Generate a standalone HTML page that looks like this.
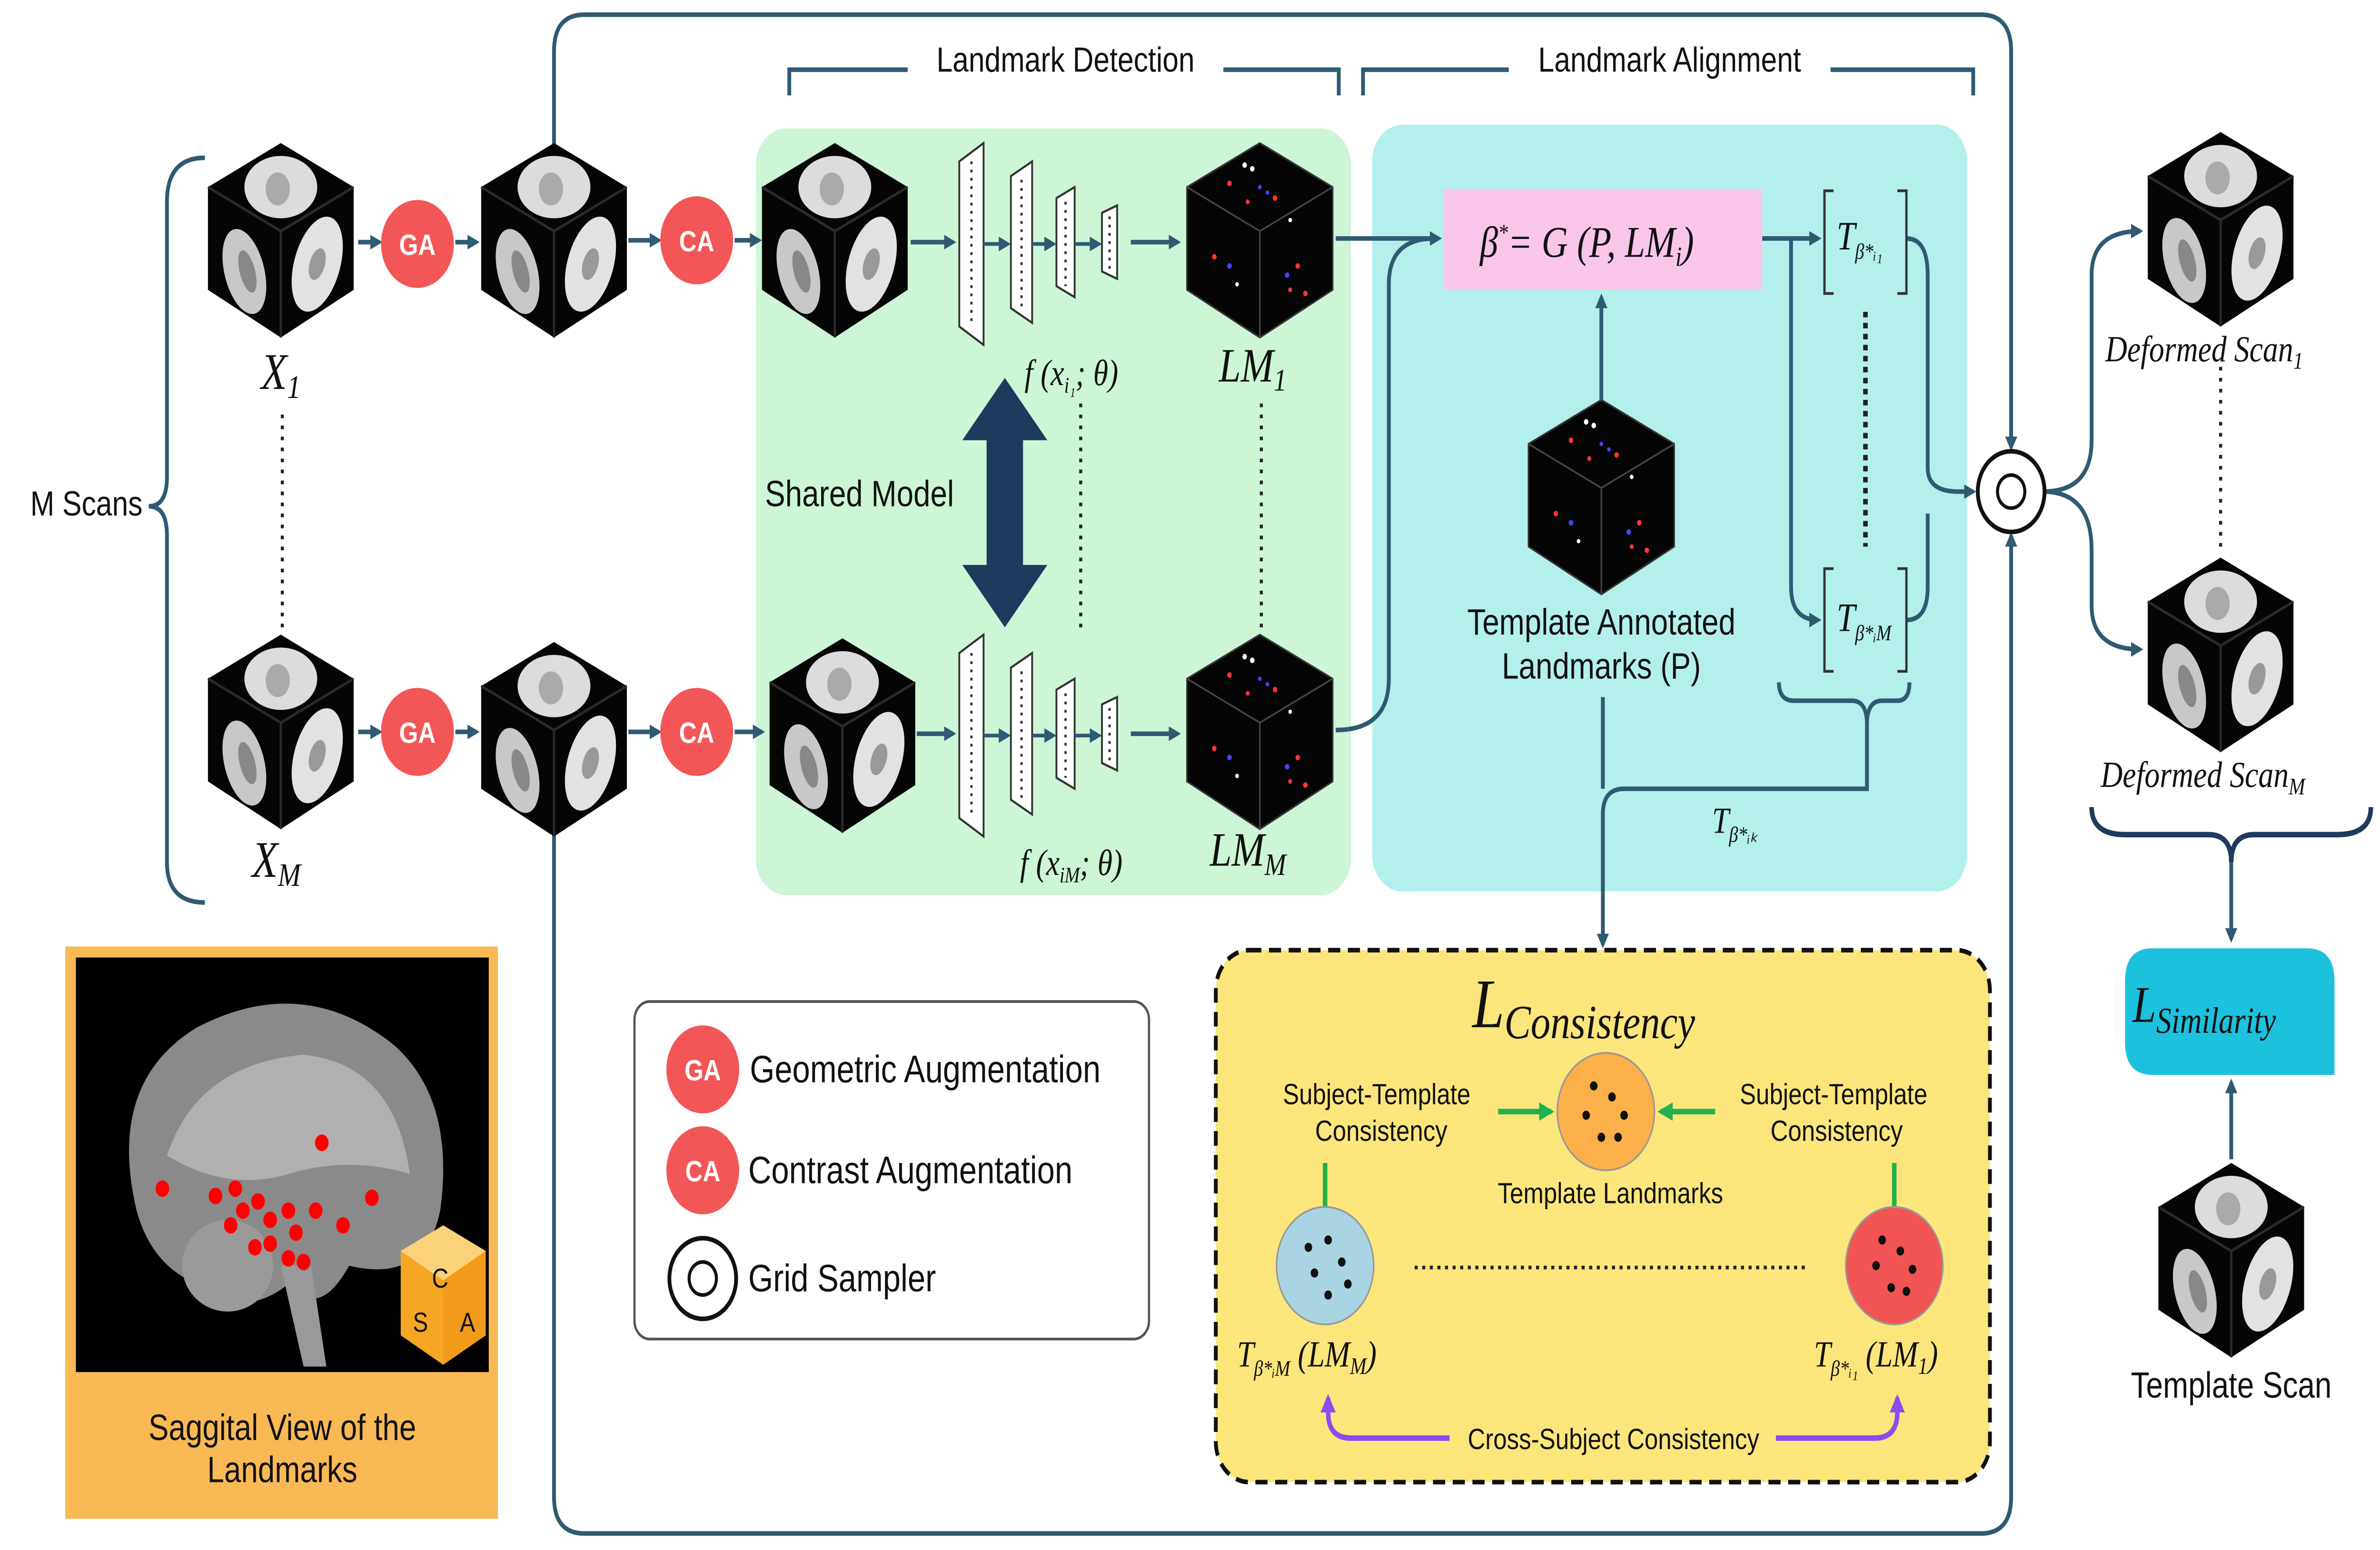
<!DOCTYPE html>
<html><head><meta charset="utf-8"><style>
html,body{margin:0;padding:0;background:#fff;width:100vw;height:100vh;overflow:hidden;}
svg{display:block;position:absolute;left:0;top:0;width:100vw;height:100vh;}
text{font-family:"Liberation Sans",sans-serif;}
.m{font-family:"Liberation Serif",serif;font-style:italic;}
</style></head><body>
<svg viewBox="0 0 1568 845" preserveAspectRatio="none" xmlns="http://www.w3.org/2000/svg">
<defs>
<marker id="ar" markerWidth="8" markerHeight="8" refX="6" refY="4" orient="auto" markerUnits="userSpaceOnUse"><path d="M0,0 L8,4 L0,8 z" fill="#2e5a72"/></marker>
<marker id="ag" markerWidth="10" markerHeight="10" refX="8" refY="5" orient="auto" markerUnits="userSpaceOnUse"><path d="M0,0 L10,5 L0,10 z" fill="#22b14c"/></marker>
<marker id="ap" markerWidth="10" markerHeight="10" refX="8" refY="5" orient="auto" markerUnits="userSpaceOnUse"><path d="M0,0 L10,5 L0,10 z" fill="#8b4cf0"/></marker>
<g id="cube">
<polygon points="0,-52 48,-28 48,28 0,54 -48,28 -48,-28" fill="#050505"/>
<path d="M-48,-28 L0,-4 L48,-28 M0,-4 L0,54" stroke="#2a2a2a" stroke-width="1.5" fill="none"/>
<ellipse cx="0" cy="-28" rx="24" ry="17" fill="#dcdcdc"/>
<ellipse cx="-2" cy="-27" rx="8" ry="9" fill="#aaa"/>
<ellipse cx="-24" cy="18" rx="13" ry="24" fill="#c8c8c8" transform="rotate(-18 -24 18)"/>
<ellipse cx="-22" cy="18" rx="5" ry="12" fill="#888" transform="rotate(-18 -22 18)"/>
<ellipse cx="24" cy="14" rx="15" ry="27" fill="#e2e2e2" transform="rotate(20 24 14)"/>
<ellipse cx="24" cy="14" rx="5" ry="9" fill="#999" transform="rotate(20 24 14)"/>
</g>
<g id="lm">
<polygon points="0,-52 48,-28 48,28 0,54 -48,28 -48,-28" fill="#050505" stroke="#333" stroke-width="1"/>
<path d="M-48,-28 L0,-4 L48,-28 M0,-4 L0,54" stroke="#444" stroke-width="1" fill="none"/>
<g fill="#f33"><circle cx="-20" cy="-30" r="1.5"/><circle cx="10" cy="-22" r="1.5"/><circle cx="-30" cy="10" r="1.5"/><circle cx="25" cy="15" r="1.5"/><circle cx="30" cy="30" r="1.5"/><circle cx="-8" cy="-20" r="1.3"/><circle cx="20" cy="28" r="1.3"/></g>
<g fill="#fff"><circle cx="-10" cy="-40" r="1.5"/><circle cx="-5" cy="-38" r="1.5"/><circle cx="20" cy="-10" r="1.2"/><circle cx="-15" cy="25" r="1.2"/></g>
<g fill="#44f"><circle cx="-20" cy="15" r="1.5"/><circle cx="18" cy="20" r="1.5"/><circle cx="0" cy="-28" r="1.2"/><circle cx="5" cy="-25" r="1.2"/></g>
</g>
<g id="net">
<g fill="#fff" stroke="#333" stroke-width="1.2">
<polygon points="2,10 18,0 18,110 2,100" /><polygon points="36,18 50,10 50,98 36,90"/><polygon points="66,30 78,24 78,84 66,78"/><polygon points="96,38 106,34 106,74 96,70"/>
</g>
<g stroke="#333" stroke-width="1.5" stroke-dasharray="1.5 3"><line x1="10" y1="10" x2="10" y2="100"/><line x1="43" y1="20" x2="43" y2="90"/><line x1="72" y1="32" x2="72" y2="78"/><line x1="101" y1="40" x2="101" y2="70"/></g>
<g stroke="#2e5a72" stroke-width="2" marker-end="url(#ar)"><line x1="18" y1="55" x2="34" y2="55"/><line x1="50" y1="55" x2="64" y2="55"/><line x1="78" y1="55" x2="94" y2="55"/></g>
</g>
</defs>
<rect width="1568" height="845" fill="#fff"/>

<path d="M365,85 L365,28 Q365,8 385,8 L1305,8 Q1325,8 1325,28 L1325,244" fill="none" stroke="#2e5a72" stroke-width="2.5" marker-end="url(#ar)"/>
<path d="M365,450 L365,816 Q365,836 385,836 L1305,836 Q1325,836 1325,816 L1325,292" fill="none" stroke="#2e5a72" stroke-width="2.5" marker-end="url(#ar)"/>

<rect x="498" y="70" width="392" height="418" rx="20" fill="#ccf6d6"/>
<rect x="904" y="68" width="392" height="418" rx="20" fill="#b3f0ec"/>

<g fill="none" stroke="#2e5a72" stroke-width="2.5">
<path d="M520,52 L520,38 L598,38 M806,38 L882,38 L882,52"/>
<path d="M898,52 L898,38 L994,38 M1206,38 L1300,38 L1300,52"/>
</g>
<text x="702" y="39" font-size="19" text-anchor="middle" fill="#111">Landmark Detection</text>
<text x="1100" y="39" font-size="19" text-anchor="middle" fill="#111">Landmark Alignment</text>

<path d="M135,86 Q110,86 110,110 L110,260 Q110,276 98,276 Q110,276 110,292 L110,470 Q110,492 135,492" fill="none" stroke="#2e5a72" stroke-width="2.5"/>
<text x="20" y="281" font-size="19" fill="#111">M  Scans</text>

<use href="#cube" x="185" y="130"/>
<use href="#cube" x="365" y="130"/>
<use href="#cube" x="550" y="130"/>
<use href="#lm" x="830" y="130"/>
<use href="#cube" x="185" y="398"/>
<use href="#cube" x="365" y="402"/>
<use href="#cube" x="555" y="400"/>
<use href="#lm" x="830" y="398"/>
<use href="#lm" x="1055" y="270"/>
<use href="#cube" x="1463" y="124"/>
<use href="#cube" x="1463" y="356"/>
<use href="#cube" x="1470" y="686"/>

<g stroke="#2e5a72" stroke-width="2.5" marker-end="url(#ar)">
<line x1="236" y1="132" x2="250" y2="132"/><line x1="300" y1="132" x2="314" y2="132"/>
<line x1="414" y1="131" x2="434" y2="131"/><line x1="484" y1="131" x2="500" y2="131"/>
<line x1="236" y1="399" x2="250" y2="399"/><line x1="300" y1="399" x2="314" y2="399"/>
<line x1="414" y1="399" x2="434" y2="399"/><line x1="484" y1="399" x2="502" y2="399"/>
<line x1="600" y1="132" x2="628" y2="132"/><line x1="604" y1="400" x2="628" y2="400"/>
<line x1="745" y1="132" x2="776" y2="132"/><line x1="745" y1="400" x2="776" y2="400"/>
</g>
<g fill="#f35656"><circle cx="275" cy="133" r="24"/><circle cx="459" cy="131" r="24"/><circle cx="275" cy="399" r="24"/><circle cx="459" cy="399" r="24"/></g>
<g font-size="16" fill="#fff" text-anchor="middle" font-weight="bold"><text x="275" y="139">GA</text><text x="459" y="137">CA</text><text x="275" y="405">GA</text><text x="459" y="405">CA</text></g>

<text class="m" x="172" y="212" font-size="28" fill="#111">X<tspan font-size="18" dy="5">1</tspan></text>
<text class="m" x="166" y="478" font-size="28" fill="#111">X<tspan font-size="18" dy="5">M</tspan></text>
<line x1="186" y1="226" x2="186" y2="342" stroke="#222" stroke-width="2" stroke-dasharray="2 4"/>

<use href="#net" x="630" y="78"/>
<use href="#net" x="630" y="346"/>
<text class="m" x="675" y="210" font-size="20" fill="#111">f (x<tspan font-size="12" dy="4">i₁</tspan><tspan dy="-4">; θ)</tspan></text>
<text class="m" x="672" y="477" font-size="20" fill="#111">f (x<tspan font-size="12" dy="4">iM</tspan><tspan dy="-4">; θ)</tspan></text>
<line x1="712" y1="220" x2="712" y2="342" stroke="#222" stroke-width="2" stroke-dasharray="2 4"/>
<line x1="831" y1="220" x2="831" y2="342" stroke="#222" stroke-width="2" stroke-dasharray="2 4"/>
<text class="m" x="803" y="208" font-size="26" fill="#111">LM<tspan font-size="17" dy="5">1</tspan></text>
<text class="m" x="797" y="472" font-size="26" fill="#111">LM<tspan font-size="17" dy="5">M</tspan></text>
<text x="504" y="276" font-size="20" fill="#111">Shared Model</text>
<polygon points="662,206 690,240 674,240 674,308 690,308 662,342 634,308 650,308 650,240 634,240" fill="#1f3a5c"/>

<rect x="951" y="103" width="210" height="55" fill="#f9c6ea"/>
<text class="m" x="975" y="140" font-size="24" fill="#111">β<tspan font-size="13" dy="-9">*</tspan><tspan dy="9">= G (P, LM</tspan><tspan font-size="15" dy="5">i</tspan><tspan dy="-5">)</tspan></text>
<g fill="none" stroke="#2e5a72" stroke-width="2.5">
<path d="M880,130 L948,130" marker-end="url(#ar)"/>
<path d="M880,398 Q915,398 915,370 L915,155 Q915,130 945,130" />
<path d="M1055,218 L1055,162" marker-end="url(#ar)"/>
<path d="M1161,130 L1198,130" marker-end="url(#ar)"/>
<path d="M1180,130 L1180,320 Q1180,338 1198,338" marker-end="url(#ar)"/>
<path d="M1256,130 Q1270,130 1270,150 L1270,255 Q1270,268 1290,268 L1300,268" marker-end="url(#ar)"/>
<path d="M1256,338 Q1270,338 1270,320 L1270,280"/>
<path d="M1346,268 Q1378,268 1378,240 L1378,150 Q1378,126 1410,126" marker-end="url(#ar)"/>
<path d="M1346,268 Q1378,268 1378,300 L1378,330 Q1378,354 1410,354" marker-end="url(#ar)"/>
<path d="M1172,372 Q1172,382 1182,382 L1220,382 Q1230,382 1230,395 Q1230,382 1240,382 L1250,382 Q1258,382 1258,372"/>
<path d="M1230,395 L1230,430 L1070,430 Q1056,430 1056,444 L1056,515" marker-end="url(#ar)"/>
<path d="M1056,380 L1056,430"/>
</g>
<g fill="none" stroke="#333" stroke-width="1.5"><path d="M1208,104 L1202,104 L1202,160 L1208,160 M1250,104 L1256,104 L1256,160 L1250,160"/><path d="M1208,310 L1202,310 L1202,366 L1208,366 M1250,310 L1256,310 L1256,366 L1250,366"/></g>
<text class="m" x="1210" y="136" font-size="22" fill="#111">T<tspan font-size="12" dy="5">β*ᵢ₁</tspan></text>
<text class="m" x="1210" y="344" font-size="22" fill="#111">T<tspan font-size="12" dy="5">β*ᵢM</tspan></text>
<line x1="1229" y1="170" x2="1229" y2="298" stroke="#222" stroke-width="3" stroke-dasharray="3 3"/>
<text x="1055" y="346" font-size="20" text-anchor="middle" fill="#111">Template Annotated</text>
<text x="1055" y="370" font-size="20" text-anchor="middle" fill="#111">Landmarks (P)</text>
<text class="m" x="1128" y="454" font-size="20" fill="#111">T<tspan font-size="12" dy="5">β*ᵢₖ</tspan></text>

<circle cx="1325" cy="268" r="22" fill="#fff" stroke="#111" stroke-width="2.5"/>
<circle cx="1325" cy="268" r="9" fill="none" stroke="#111" stroke-width="2"/>

<text class="m" x="1387" y="197" font-size="20" fill="#111">Deformed Scan<tspan font-size="13" dy="4">1</tspan></text>
<text class="m" x="1384" y="429" font-size="20" fill="#111">Deformed Scan<tspan font-size="13" dy="4">M</tspan></text>
<line x1="1463" y1="200" x2="1463" y2="300" stroke="#222" stroke-width="2" stroke-dasharray="2 4"/>
<path d="M1378,440 Q1378,455 1400,455 L1455,455 Q1470,455 1470,470 Q1470,455 1485,455 L1540,455 Q1562,455 1562,440" fill="none" stroke="#1f3a5c" stroke-width="3"/>
<path d="M1470,470 L1470,512" stroke="#2e5a72" stroke-width="2.5" marker-end="url(#ar)"/>
<path d="M1470,632 L1470,590" stroke="#2e5a72" stroke-width="2.5" marker-end="url(#ar)"/>
<path d="M1418,517 L1520,517 Q1538,517 1538,535 L1538,586 L1418,586 Q1400,586 1400,568 L1400,535 Q1400,517 1418,517 z" fill="#1cc1dd"/>
<text class="m" x="1405" y="557" font-size="28" fill="#111">L<tspan font-size="20" dy="6">Similarity</tspan></text>
<text x="1470" y="762" font-size="20" text-anchor="middle" fill="#111">Template Scan</text>

<rect x="418" y="546" width="339" height="184" rx="10" fill="#fff" stroke="#555" stroke-width="1.5"/>
<circle cx="463" cy="583" r="24" fill="#f35656"/><text x="463" y="589" font-size="16" font-weight="bold" fill="#fff" text-anchor="middle">GA</text>
<circle cx="463" cy="638" r="24" fill="#f35656"/><text x="463" y="644" font-size="16" font-weight="bold" fill="#fff" text-anchor="middle">CA</text>
<circle cx="463" cy="697" r="22" fill="#fff" stroke="#111" stroke-width="2.5"/><circle cx="463" cy="697" r="9" fill="none" stroke="#111" stroke-width="2"/>
<text x="494" y="590" font-size="21" fill="#111">Geometric Augmentation</text>
<text x="493" y="645" font-size="21" fill="#111">Contrast Augmentation</text>
<text x="493" y="704" font-size="21" fill="#111">Grid Sampler</text>

<rect x="43" y="516" width="285" height="312" fill="#f9b955"/>
<rect x="50" y="522" width="272" height="226" fill="#000"/>
<path d="M90,660 Q70,590 130,560 Q200,530 260,570 Q300,600 290,660 Q280,700 230,690 Q210,720 190,700 Q160,720 130,700 Q100,690 90,660 z" fill="#8a8a8a"/>
<path d="M110,630 Q130,580 200,575 Q260,580 270,640 Q230,630 190,640 Q150,650 110,630z" fill="#b0b0b0"/>
<ellipse cx="150" cy="690" rx="30" ry="25" fill="#9a9a9a"/>
<path d="M185,690 L200,745 L215,745 L205,690z" fill="#999"/>
<g fill="#f00"><circle cx="107" cy="648" r="4.5"/><circle cx="212" cy="623" r="4.5"/><circle cx="245" cy="653" r="4.5"/><circle cx="142" cy="652" r="4.5"/><circle cx="155" cy="648" r="4.5"/><circle cx="160" cy="660" r="4.5"/><circle cx="170" cy="655" r="4.5"/><circle cx="178" cy="665" r="4.5"/><circle cx="190" cy="660" r="4.5"/><circle cx="208" cy="660" r="4.5"/><circle cx="226" cy="668" r="4.5"/><circle cx="168" cy="680" r="4.5"/><circle cx="178" cy="678" r="4.5"/><circle cx="195" cy="672" r="4.5"/><circle cx="190" cy="686" r="4.5"/><circle cx="200" cy="688" r="4.5"/><circle cx="152" cy="668" r="4.5"/></g>
<polygon points="292,668 320,682 320,728 292,744 264,728 264,682" fill="#f5a623"/>
<polygon points="292,668 320,682 292,698 264,682" fill="#fbd27a"/>
<polygon points="292,698 320,682 320,728 292,744" fill="#f29a1a"/>
<text x="290" y="702" font-size="15" text-anchor="middle" fill="#111">C</text>
<text x="277" y="726" font-size="15" text-anchor="middle" fill="#111">S</text>
<text x="308" y="726" font-size="15" text-anchor="middle" fill="#111">A</text>
<text x="186" y="785" font-size="20" text-anchor="middle" fill="#111">Saggital View of the</text>
<text x="186" y="808" font-size="20" text-anchor="middle" fill="#111">Landmarks</text>

<rect x="801" y="518" width="510" height="290" rx="22" fill="#fce67c" stroke="#111" stroke-width="2.5" stroke-dasharray="8 5"/>
<text class="m" x="970" y="560" font-size="38" fill="#111">L<tspan font-size="26" dy="6">Consistency</tspan></text>
<text x="907" y="602" font-size="16" text-anchor="middle" fill="#111">Subject-Template</text>
<text x="910" y="622" font-size="16" text-anchor="middle" fill="#111">Consistency</text>
<text x="1208" y="602" font-size="16" text-anchor="middle" fill="#111">Subject-Template</text>
<text x="1210" y="622" font-size="16" text-anchor="middle" fill="#111">Consistency</text>
<circle cx="1058" cy="606" r="32" fill="#fbb04a" stroke="#999" stroke-width="1"/>
<g fill="#111"><circle cx="1050" cy="592" r="2.5"/><circle cx="1062" cy="598" r="2.5"/><circle cx="1045" cy="608" r="2.5"/><circle cx="1070" cy="608" r="2.5"/><circle cx="1055" cy="620" r="2.5"/><circle cx="1066" cy="620" r="2.5"/></g>
<text x="1061" y="656" font-size="16" text-anchor="middle" fill="#111">Template Landmarks</text>
<g stroke="#22b14c" stroke-width="3"><line x1="987" y1="606" x2="1022" y2="606" marker-end="url(#ag)"/><line x1="1130" y1="606" x2="1094" y2="606" marker-end="url(#ag)"/><line x1="873" y1="634" x2="873" y2="660"/><line x1="1248" y1="634" x2="1248" y2="660"/></g>
<circle cx="873" cy="690" r="32" fill="#a9d5e3" stroke="#999" stroke-width="1"/>
<circle cx="1248" cy="690" r="32" fill="#f25454" stroke="#999" stroke-width="1"/>
<g fill="#111"><circle cx="862" cy="680" r="2.5"/><circle cx="875" cy="676" r="2.5"/><circle cx="884" cy="688" r="2.5"/><circle cx="866" cy="694" r="2.5"/><circle cx="875" cy="706" r="2.5"/><circle cx="888" cy="700" r="2.5"/>
<circle cx="1240" cy="676" r="2.5"/><circle cx="1252" cy="682" r="2.5"/><circle cx="1236" cy="690" r="2.5"/><circle cx="1260" cy="692" r="2.5"/><circle cx="1246" cy="702" r="2.5"/><circle cx="1256" cy="704" r="2.5"/></g>
<line x1="932" y1="691" x2="1192" y2="691" stroke="#222" stroke-width="2" stroke-dasharray="2 3"/>
<text class="m" x="815" y="745" font-size="20" fill="#111">T<tspan font-size="12" dy="5">β*ᵢM</tspan><tspan dy="-5"> (LM</tspan><tspan font-size="13" dy="4">M</tspan><tspan dy="-4">)</tspan></text>
<text class="m" x="1195" y="745" font-size="20" fill="#111">T<tspan font-size="12" dy="5">β*ᵢ₁</tspan><tspan dy="-5"> (LM</tspan><tspan font-size="13" dy="4">1</tspan><tspan dy="-4">)</tspan></text>
<g fill="none" stroke="#8b4cf0" stroke-width="3">
<path d="M955,784 L890,784 Q875,784 875,770 L875,762" marker-end="url(#ap)"/>
<path d="M1170,784 L1235,784 Q1250,784 1250,770 L1250,762" marker-end="url(#ap)"/>
</g>
<text x="1063" y="790" font-size="16" text-anchor="middle" fill="#111">Cross-Subject Consistency</text>
</svg>
</body></html>
